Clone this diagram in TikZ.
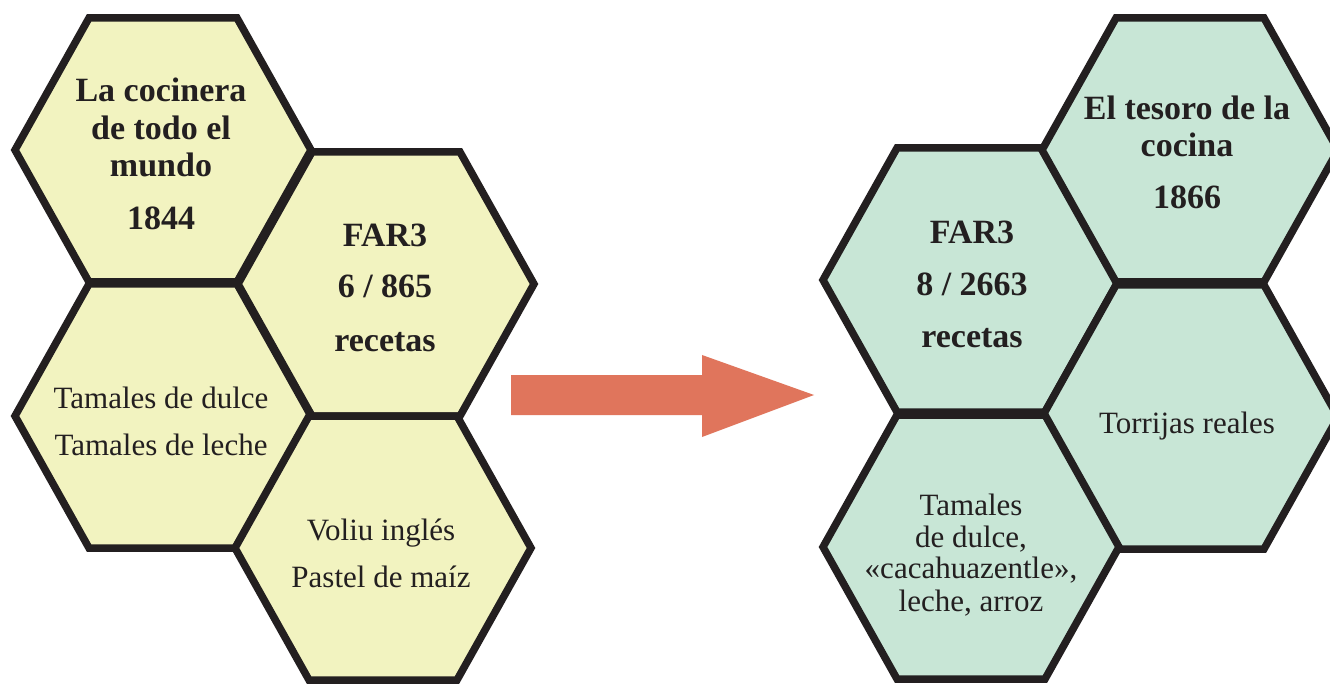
\documentclass[tikz,border=0pt]{standalone}
\usepackage{fontspec}
\setmainfont{Liberation Serif}
\definecolor{hexyellow}{HTML}{F2F3C0}
\definecolor{hexgreen}{HTML}{C8E6D6}
\definecolor{hexink}{HTML}{231F20}
\definecolor{arrowred}{HTML}{E0755C}

% hexagon cell: centre x, centre y, fill colour
\newcommand{\hexcell}[3]{%
  \filldraw[hexline,fill=#3]
    (#1-148,#2) -- (#1-74,#2-132) -- (#1+74,#2-132) --
    (#1+148,#2) -- (#1+74,#2+132) -- (#1-74,#2+132) -- cycle;}

\begin{document}
\begin{tikzpicture}[x=1pt,y=-1pt,
  hexline/.style={draw=hexink,line width=7.5pt,line join=miter},
  txt/.style={anchor=base,inner sep=0pt,text=hexink,font=\fontsize{31}{36}\selectfont},
  btxt/.style={txt,font=\bfseries\fontsize{34}{38}\selectfont}]
\useasboundingbox (0,0) rectangle (1330,684);
\clip (0,0) rectangle (1330,684);
\fill[white] (0,0) rectangle (1330,684);

% left cluster
\hexcell{163}{150}{hexyellow}
\hexcell{386}{284}{hexyellow}
\hexcell{163}{416}{hexyellow}
\hexcell{383}{548}{hexyellow}

% right cluster
\hexcell{971}{280}{hexgreen}
\hexcell{1190}{150}{hexgreen}
\hexcell{1190}{417}{hexgreen}
\hexcell{971}{547}{hexgreen}

% transition arrow
\fill[arrowred] (511,375) -- (702,375) -- (702,355) -- (814,395)
  -- (702,437) -- (702,415) -- (511,415) -- cycle;

% texts, left
\node[btxt] (la1) at (161,102) {La cocinera};
\node[btxt] (la2) at (161,140) {de todo el};
\node[btxt] (la3) at (161,177) {mundo};
\node[btxt] (la4) at (161,230) {1844};

\node[btxt] (lb1) at (385,247) {FAR3};
\node[btxt] (lb2) at (385,298) {6 / 865};
\node[btxt] (lb3) at (385,352) {recetas};

\node[txt] (lc1) at (161,408) {Tamales de dulce};
\node[txt] (lc2) at (161,455) {Tamales de leche};

\node[txt] (ld1) at (381,540) {Voliu inglés};
\node[txt] (ld2) at (381,587) {Pastel de maíz};

% texts, right
\node[btxt] (ra1) at (972,244) {FAR3};
\node[btxt] (ra2) at (972,296) {8 / 2663};
\node[btxt] (ra3) at (972,348) {recetas};

\node[btxt] (rb1) at (1187,120) {El tesoro de la};
\node[btxt] (rb2) at (1187,157) {cocina};
\node[btxt] (rb3) at (1187,209) {1866};

\node[txt] (rc1) at (1187,433) {Torrijas reales};

\node[txt] (rd1) at (971,515) {Tamales};
\node[txt] (rd2) at (971,547) {de dulce,};
\node[txt] (rd3) at (971,578) {«cacahuazentle»,};
\node[txt] (rd4) at (971,611) {leche, arroz};
\end{tikzpicture}
\end{document}
